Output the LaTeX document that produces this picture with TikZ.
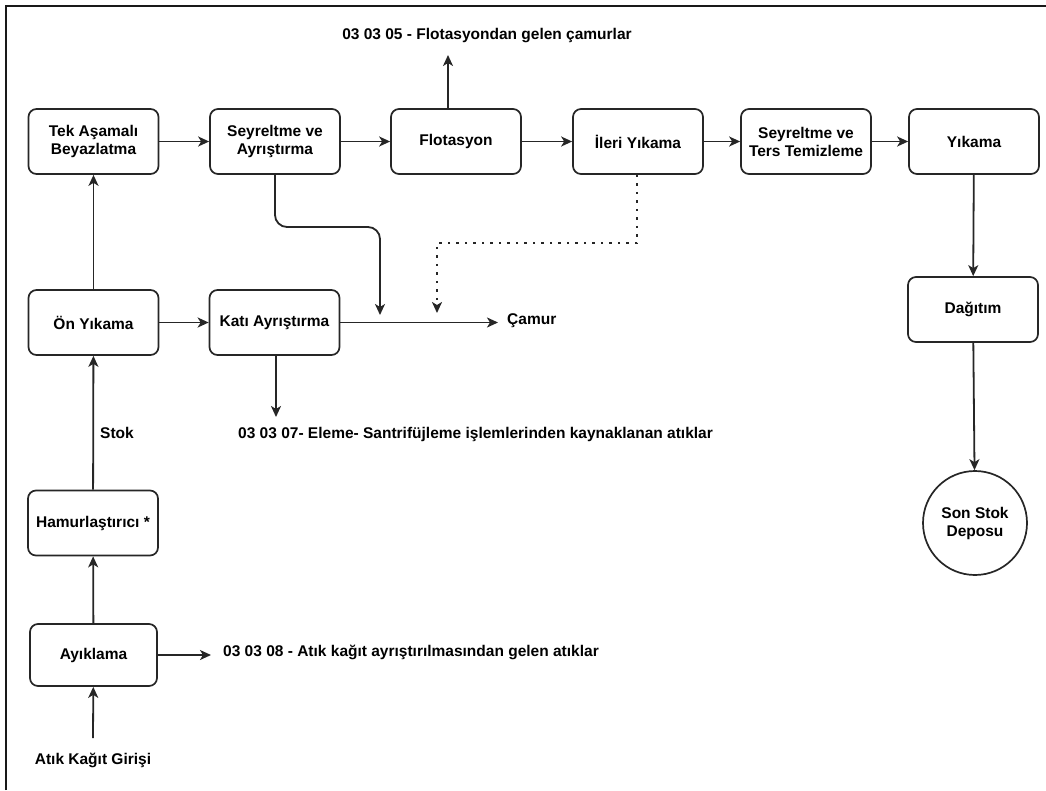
\documentclass[tikz,border=0pt]{standalone}
\usepackage{fontspec}
\setmainfont{Liberation Sans}
\usetikzlibrary{arrows.meta}
\tikzset{
  box/.style={draw=black!85, line width=1.7pt, rounded corners=8pt, minimum width=130pt, minimum height=65pt, align=center, inner sep=2pt},
  circ/.style={draw=black!85, line width=1.7pt, circle, minimum size=104pt, align=center, inner sep=0pt},
  lbl/.style={inner sep=0pt, align=center},
  conn/.style={draw=black!85, line width=1.8pt, -{Stealth[length=11pt,width=10pt,inset=3pt]}},
  dotconn/.style={conn, dash pattern=on 2.2pt off 6.3pt, line width=2.2pt}
}
\begin{document}
\begin{tikzpicture}[x=1pt,y=-1pt, font=\fontsize{15.5}{18}\selectfont\bfseries]
\useasboundingbox (0,0) rectangle (1046,790);
% frame
\draw[line width=2.6pt, black!90] (6,790) -- (6,6) -- (1046,6);
% nodes
\node[box] (tek) at (93.5,141.5) {Tek Aşamalı\\Beyazlatma};
\node[box] (sey1) at (275,141.5) {Seyreltme ve\\Ayrıştırma};
\node[box] (flo) at (456,141.5) {Flotasyon};
\node[box] (ileri) at (638,141.5) {İleri Yıkama};
\node[box] (sey2) at (806,141.5) {Seyreltme ve\\Ters Temizleme};
\node[box] (yik) at (974,141.5) {Yıkama};
\node[box] (dag) at (973,309.5) {Dağıtım};
\node[circ] (son) at (975,523) {Son Stok\\Deposu};
\node[box] (on) at (93.5,322.5) {Ön Yıkama};
\node[box] (kati) at (274.5,322.5) {Katı Ayrıştırma};
\node[box] (ham) at (93,523) {Hamurlaştırıcı *};
\node[box, minimum width=127pt, minimum height=62pt] (ayik) at (93.5,655) {Ayıklama};
% labels
\node[lbl] (t305) at (487,36) {03 03 05 - Flotasyondan gelen çamurlar};
\node[lbl, anchor=west] (camur) at (507,321) {Çamur};
\node[lbl, anchor=west] (t307) at (238,434) {03 03 07- Eleme- Santrifüjleme işlemlerinden kaynaklanan atıklar};
\node[lbl, anchor=west] (t308) at (223,652) {03 03 08 - Atık kağıt ayrıştırılmasından gelen atıklar};
\node[lbl] (atik) at (93,760) {Atık Kağıt Girişi};
\node[lbl, anchor=west] (stok) at (100,433) {Stok};
% free ends
\coordinate (c305) at (448,55);
\coordinate (ccam) at (498,322.5);
\coordinate (c307) at (276,417);
\coordinate (c308) at (211,655);
\coordinate (catik) at (93,738);
\coordinate (mA) at (380,315);
\coordinate (mB) at (437,313);
% connectors
\draw[conn] (catik) -- (ayik);
\draw[conn] (ayik) -- (c308);
\draw[conn] (ayik) -- (ham);
\draw[conn] (ham) -- (on);
\draw[conn] (on) -- (tek);
\draw[conn] (on) -- (kati);
\draw[conn] (tek) -- (sey1);
\draw[conn] (sey1) -- (flo);
\draw[conn] (flo) -- (ileri);
\draw[conn] (ileri) -- (sey2);
\draw[conn] (sey2) -- (yik);
\draw[conn] (flo.north -| c305) -- (c305);
\draw[conn] (yik) -- (dag);
\draw[conn] (dag) -- (son);
\draw[conn] (kati) -- (ccam);
\draw[conn] (kati.south -| c307) -- (c307);
\draw[conn, rounded corners=12pt] (sey1.south) |- (380,227) -- (mA);
\draw[dotconn] (ileri.south -| 637,0) |- (437,243) -- (mB);
\end{tikzpicture}
\end{document}
